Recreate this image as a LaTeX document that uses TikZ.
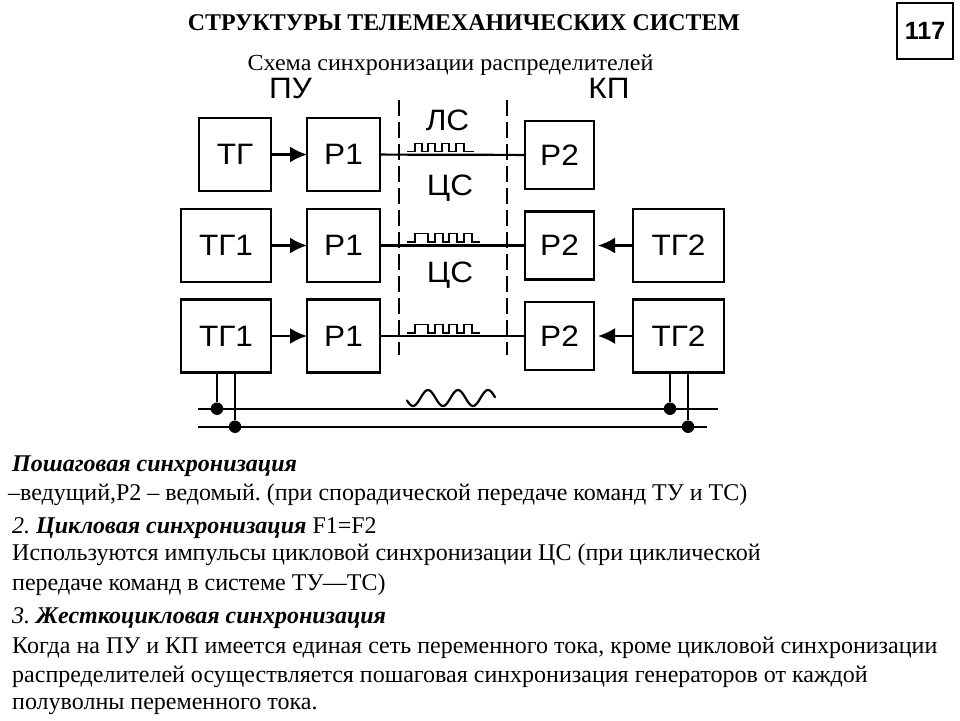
\documentclass[tikz,border=0pt]{standalone}
\usepackage{fontspec}
\usepackage{graphicx}
\setmainfont{Liberation Serif}
\newfontfamily\diafont{Liberation Sans}
\newcommand{\widetxt}[1]{\scalebox{1.07}[1]{#1}}
\frenchspacing
\usetikzlibrary{arrows.meta}
\tikzset{
  blockbox/.style={draw=black,line width=2.2pt,inner sep=0pt,outer sep=0pt,fill=white,font=\diafont\fontsize{29.5}{33}\selectfont},
  wire/.style={draw=black,line width=2.2pt},
  flow/.style={wire,-{Latex[length=17pt,width=16pt]}},
  flowback/.style={flow,shorten >=4pt},
  zone/.style={draw=black,line width=2.2pt,dash pattern=on 15.5pt off 6.5pt},
  pulse/.style={draw=black,line width=1.5pt},
  junction/.style={circle,fill=black,inner sep=0pt,minimum size=12.5pt},
  lbl/.style={inner sep=0pt,anchor=base,font=\diafont\fontsize{29.5}{33}\selectfont},
  body/.style={inner sep=0pt,anchor=base west,font=\fontsize{24}{28}\selectfont},
}
\begin{document}
\begin{tikzpicture}[x=1pt,y=-1pt]
\useasboundingbox (0,0) rectangle (960,720);
\fill[white] (0,0) rectangle (960,720);
% headings
\node[inner sep=0pt,anchor=base] (title) at (464,30) {\scalebox{0.995}[1]{\fontsize{24}{28}\selectfont\bfseries СТРУКТУРЫ ТЕЛЕМЕХАНИЧЕСКИХ СИСТЕМ}};
\node[inner sep=0pt,anchor=base] (sub) at (450.5,70.5) {\scalebox{1.045}[1]{\fontsize{23}{26}\selectfont Схема синхронизации распределителей}};
\node[draw=black,line width=2.2pt,minimum width=56pt,minimum height=56pt,inner sep=0pt,font=\diafont\bfseries\fontsize{25}{28}\selectfont] (page) at (925,31) {117};
\node[lbl] (pu) at (290.5,98) {\widetxt{ПУ}};
\node[lbl] (kp) at (609,98) {\widetxt{КП}};
% zone separators
\coordinate (zaT) at (399,100); \coordinate (zaB) at (399,355);
\coordinate (zbT) at (507,100); \coordinate (zbB) at (507,355);
\draw[zone] (zaT) -- (zaB);
\draw[zone] (zbT) -- (zbB);
\node[lbl] (ls) at (447.5,130) {\widetxt{ЛС}};
\node[lbl] (cs1) at (450,195) {\widetxt{ЦС}};
\node[lbl] (cs2) at (450,282) {\widetxt{ЦС}};
% row 1
\node[blockbox,minimum width=72pt,minimum height=73pt] (tg) at (235,154.5) {\widetxt{ТГ}};
\node[blockbox,minimum width=73pt,minimum height=73pt] (r1a) at (343.5,154.5) {\widetxt{Р1}};
\node[blockbox,minimum width=69pt,minimum height=68pt] (r2a) at (559.5,155) {\widetxt{Р2}};
\draw[flow] (tg) -- (r1a);
\draw[wire] (r1a) -- (r2a);
% row 2
\node[blockbox,minimum width=90pt,minimum height=73pt] (tga) at (226,245.5) {\widetxt{ТГ1}};
\node[blockbox,minimum width=73pt,minimum height=73pt] (r1b) at (343.5,245.5) {\widetxt{Р1}};
\node[blockbox,minimum width=69pt,minimum height=68pt] (r2b) at (559.5,245.5) {\widetxt{Р2}};
\node[blockbox,minimum width=91pt,minimum height=73pt] (tgb) at (678.5,245.5) {\widetxt{ТГ2}};
\draw[flow] (tga) -- (r1b);
\draw[wire] (r1b) -- (r2b);
\draw[flowback] (tgb) -- (r2b);
% row 3
\node[blockbox,minimum width=90pt,minimum height=73pt] (tgc) at (226,336) {\widetxt{ТГ1}};
\node[blockbox,minimum width=73pt,minimum height=73pt] (r1c) at (343.5,336) {\widetxt{Р1}};
\node[blockbox,minimum width=69pt,minimum height=68pt] (r2c) at (559.5,336) {\widetxt{Р2}};
\node[blockbox,minimum width=91pt,minimum height=73pt] (tgd) at (678.5,336) {\widetxt{ТГ2}};
\draw[flow] (tgc) -- (r1c);
\draw[wire] (r1c) -- (r2c);
\draw[flowback] (tgd) -- (r2c);
% pulses
\draw[pulse] (407,151.5)--(415,151.5)--(415,143.5)--(422,143.5)--(422,151.5)--(428,151.5)--(428,143.5)--(435,143.5)--(435,151.5)--(442,151.5)--(442,143.5)--(449,143.5)--(449,151.5)--(456,151.5)--(456,143.5)--(464,143.5)--(464,151.5)--(474,151.5);
\draw[pulse] (407,242)--(415,242)--(415,233.5)--(428,233.5)--(428,242)--(435,242)--(435,233.5)--(443,233.5)--(443,242)--(449,242)--(449,233.5)--(457,233.5)--(457,242)--(464,242)--(464,233.5)--(472,233.5)--(472,242)--(480,242);
\draw[pulse] (407,333)--(415,333)--(415,324.5)--(428,324.5)--(428,333)--(435,333)--(435,324.5)--(443,324.5)--(443,333)--(449,333)--(449,324.5)--(457,324.5)--(457,333)--(464,333)--(464,324.5)--(472,324.5)--(472,333)--(480,333);
% mains
\coordinate (busaL) at (198,408.7); \coordinate (busaR) at (718,408.7);
\coordinate (busbL) at (198,426.7); \coordinate (busbR) at (707,426.7);
\draw[wire] (busaL) -- (busaR);
\draw[wire] (busbL) -- (busbR);
\node[junction] (j1) at (217,408.7) {};
\node[junction] (j2) at (235,426.7) {};
\node[junction] (j3) at (670,408.7) {};
\node[junction] (j4) at (688,426.7) {};
\draw[wire] (tgc.south -| j1) -- (j1);
\draw[wire] (tgc.south -| j2) -- (j2);
\draw[wire] (tgd.south -| j3) -- (j3);
\draw[wire] (tgd.south -| j4) -- (j4);
\draw[line width=2.2pt,line cap=round] plot[smooth,samples=60,domain=407:495] (\x,{398+8*cos(12*(\x-413))});
% text
\node[body] (t1) at (12,471) {\textit{\textbf{Пошаговая синхронизация}}};
\node[body] (t2) at (8,500) {–ведущий,Р2 – ведомый. (при спорадической передаче команд ТУ и ТС)};
\node[body] (t3) at (12,533) {\textit{2.} \textit{\textbf{Цикловая синхронизация}} F1=F2};
\node[body] (t4) at (12,560.5) {Используются импульсы цикловой синхронизации ЦС (при циклической};
\node[body] (t5) at (12,590) {передаче команд в системе ТУ—ТС)};
\node[body] (t6) at (12,623) {\textit{3.} \textit{\textbf{Жесткоцикловая синхронизация}}};
\node[body] (t7) at (12,653) {Когда на ПУ и КП имеется единая сеть переменного тока, кроме цикловой синхронизации};
\node[body] (t8) at (12,682) {распределителей осуществляется пошаговая синхронизация генераторов от каждой};
\node[body] (t9) at (12,709) {полуволны переменного тока.};
\end{tikzpicture}
\end{document}
